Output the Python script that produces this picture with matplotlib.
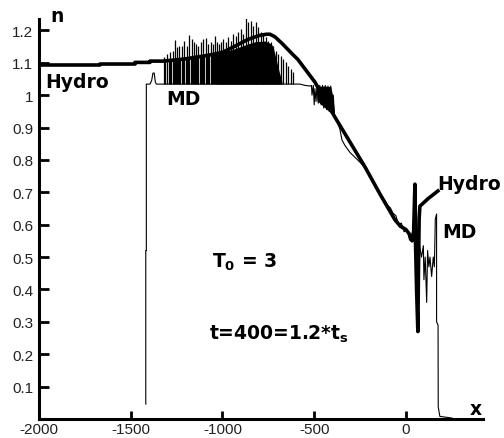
import matplotlib
matplotlib.use("Agg")
import matplotlib.pyplot as plt

plt.rcParams['font.family'] = ['Liberation Sans', 'DejaVu Sans']
plt.rcParams['mathtext.fontset'] = 'dejavusans'
plt.rcParams['axes.unicode_minus'] = False

# Hydro solution (thick line)
hydro_x = [-2000, -1668, -1668, -1477, -1477, -1395, -1395, -1324, -1200, -1100,
           -1041, -997, -932, -861, -800, -760, -741, -714, -676, -616,
           -589, -496, -387, -223, -140, -60, -30, 0, 20, 33,
           42, 49, 52, 58, 65, 68, 72, 76, 120, 174]
hydro_n = [1.093, 1.093, 1.096, 1.096, 1.101, 1.101, 1.105, 1.105, 1.112, 1.121,
           1.127, 1.133, 1.151, 1.172, 1.184, 1.188, 1.188, 1.180, 1.160, 1.125,
           1.110, 1.040, 0.932, 0.778, 0.693, 0.615, 0.595, 0.585, 0.570, 0.550,
           0.580, 0.725, 0.550, 0.400, 0.270, 0.450, 0.620, 0.657, 0.680, 0.704]

# MD result, main thin line
md_x = [-1418, -1418, -1415, -1415, -1395, -1386, -1379, -1372, -1366, -1360,
        -1324, -600, -578, -550, -523, -515, -512, -505, -500, -496,
        -490, -485, -478, -470, -462, -455, -448, -440, -432, -425,
        -418, -410, -402, -396, -390, -387, -375, -360, -349, -333,
        -305, -278, -251, -223, -180, -150, -120, -100, -85, -70,
        -55, -40, -25, -10, 5, 20, 35, 50, 70, 85,
        95, 98, 105, 113, 118, 125, 131, 140, 149, 155,
        160, 167, 167, 175, 176, 185, 250]
md_n = [0.046, 0.520, 0.520, 1.034, 1.034, 1.045, 1.068, 1.068, 1.040, 1.034,
        1.034, 1.034, 1.034, 1.030, 1.028, 1.030, 1.000, 1.030, 0.970, 1.020,
        0.980, 1.028, 0.975, 1.030, 0.970, 1.030, 0.960, 1.030, 0.955, 1.028,
        0.950, 1.028, 0.945, 1.000, 0.940, 0.935, 0.918, 0.895, 0.862, 0.845,
        0.823, 0.808, 0.793, 0.776, 0.735, 0.705, 0.678, 0.660, 0.652, 0.635,
        0.628, 0.600, 0.605, 0.578, 0.585, 0.552, 0.572, 0.545, 0.548, 0.500,
        0.535, 0.430, 0.500, 0.360, 0.520, 0.470, 0.500, 0.440, 0.500, 0.470,
        0.617, 0.633, 0.300, 0.290, 0.037, 0.008, 0.003]

# MD oscillation spikes (tall ones), from base level
md_base = 1.034
spike_x = [-1319, -1302, -1286, -1270, -1259, -1248, -1237, -1221, -1210, -1193,
           -1183, -1166, -1155, -1144, -1134, -1117, -1106, -1090, -1079, -1063,
           -1052, -1041, -1030, -1019, -1008, -997, -981, -970, -954, -943,
           -926, -916, -899, -888, -872, -861, -845, -834, -817, -807,
           -790, -779, -763, -752, -736, -725, -708, -698, -681, -670,
           -654, -643, -627, -616]
spike_n = [1.117, 1.127, 1.133, 1.136, 1.170, 1.148, 1.151, 1.151, 1.167, 1.151,
           1.185, 1.173, 1.164, 1.157, 1.151, 1.164, 1.173, 1.176, 1.157, 1.164,
           1.157, 1.182, 1.164, 1.157, 1.164, 1.173, 1.164, 1.179, 1.167, 1.188,
           1.182, 1.194, 1.204, 1.188, 1.241, 1.225, 1.228, 1.213, 1.225, 1.210,
           1.194, 1.188, 1.179, 1.167, 1.164, 1.151, 1.136, 1.127, 1.120, 1.111,
           1.102, 1.090, 1.080, 1.071]

# shorter spikes between the tall ones
fill_x = [-1311, -1294, -1278, -1264, -1253, -1242, -1229, -1215, -1201, -1188,
          -1174, -1160, -1149, -1139, -1125, -1111, -1098, -1084, -1071, -1057,
          -1046, -1035]
fill_n = [1.108, 1.110, 1.112, 1.110, 1.114, 1.113, 1.116, 1.115, 1.118, 1.117,
          1.119, 1.118, 1.121, 1.120, 1.122, 1.121, 1.124, 1.123, 1.125, 1.126,
          1.127, 1.128]

# solid black band where MD oscillates too fast to resolve
band_x = [-1030, -1000, -950, -900, -861, -820, -768, -740, -725, -703, -690, -676]
band_hi = [1.128, 1.133, 1.140, 1.150, 1.158, 1.165, 1.167, 1.160, 1.151, 1.100, 1.070, 1.043]

patch_x = [-485, -470, -440, -410, -400, -390]
patch_hi = [1.020, 1.028, 1.028, 1.026, 1.000, 0.950]
patch_lo = [0.985, 0.975, 0.960, 0.945, 0.940, 0.935]

fig = plt.figure(figsize=(5.04, 4.39), dpi=100)
ax = fig.add_axes([39 / 504, 1 - 420 / 439, 444 / 504, 400 / 439])

ax.plot(md_x, md_n, color='black', lw=0.8)
ax.vlines(spike_x, md_base, spike_n, color='black', lw=0.9)
ax.vlines(fill_x, md_base, fill_n, color='black', lw=0.9)
ax.fill_between(band_x, md_base, band_hi, color='black', lw=0)
ax.fill_between(patch_x, patch_lo, patch_hi, color='black', lw=0)
ax.plot(hydro_x, hydro_n, color='black', lw=2.6, solid_joinstyle='round')

ax.set_xlim(-2000, 420)
ax.set_ylim(0, 1.235)
for s in ['top', 'right']:
    ax.spines[s].set_visible(False)
for s in ['left', 'bottom']:
    ax.spines[s].set_linewidth(2.2)

ax.set_xticks([-2000, -1500, -1000, -500, 0])
yt = [0.1, 0.2, 0.3, 0.4, 0.5, 0.6, 0.7, 0.8, 0.9, 1.0, 1.1, 1.2]
ax.set_yticks(yt)
ax.set_yticklabels(['0.1', '0.2', '0.3', '0.4', '0.5', '0.6', '0.7', '0.8', '0.9', '1', '1.1', '1.2'])
ax.tick_params(direction='in', length=7, width=2, labelsize=11, labelcolor='#222222')
ax.tick_params(axis='y', pad=4)
ax.tick_params(axis='x', pad=2.5, length=6)

bold = dict(family='DejaVu Sans', fontweight='bold', fontsize=13.5)
ax.text(-1967, 1.025, 'Hydro', **bold)
ax.text(-1308, 0.972, 'MD', **bold)
ax.text(169, 0.710, 'Hydro', **bold)
ax.text(196, 0.562, 'MD', **bold)
ax.text(-1940, 1.228, 'n', clip_on=False, **bold)
ax.text(349, 0.015, 'x', **bold)
ax.text(-1057, 0.469, r'$\mathbf{T_0}$ = 3', **bold)
ax.text(-1074, 0.247, r't=400=1.2*$\mathbf{t_s}$', **bold)

fig.savefig('out.png', dpi=100)
